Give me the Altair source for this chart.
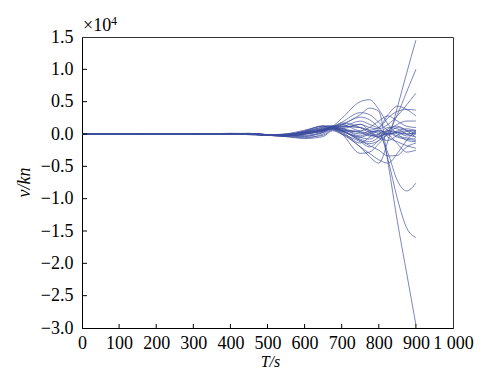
import altair as alt
import pandas as pd

# time grid (s)
T = [0, 150, 300, 400, 450, 500, 550, 600, 650, 675, 700, 750, 775, 800, 825, 850, 875, 900]

# curves, values in units of 1e4 kn
c01 = [0, 0, 0, 0.01, 0.01, -0.01, -0.03, 0.03, 0.08, 0.12, 0.24, 0.50, 0.53, 0.38, 0.15, 0.02, 0.00, 0.02]
c02 = [0, 0, 0, 0.00, 0.01, -0.02, -0.02, 0.04, 0.10, 0.11, 0.18, 0.33, 0.30, 0.18, 0.05, -0.03, -0.06, -0.08]
c03 = [0, 0, 0, 0.01, 0.00, -0.02, 0.00, 0.06, 0.12, 0.10, 0.14, 0.26, 0.22, 0.10, -0.05, -0.12, -0.18, -0.22]
c04 = [0, 0, 0, 0.00, -0.01, -0.02, 0.00, 0.03, 0.08, 0.09, 0.12, 0.10, 0.06, 0.10, 0.30, 0.43, 0.38, 0.28]
c05 = [0, 0, 0, 0.00, 0.00, -0.01, -0.03, 0.02, 0.06, 0.08, 0.00, -0.20, -0.35, -0.45, -0.10, 0.41, 0.94, 1.45]
c06 = [0, 0, 0, 0.00, 0.005, -0.01, -0.02, 0.05, 0.12, 0.11, 0.15, 0.30, 0.40, 0.35, -0.45, -1.35, -2.15, -2.95]
c07 = [0, 0, 0, 0.00, 0.00, -0.02, -0.01, 0.00, 0.05, 0.08, 0.05, -0.10, -0.15, -0.10, 0.02, 0.30, 0.65, 1.00]
c08 = [0, 0, 0, 0.00, 0.00, -0.01, -0.02, 0.02, 0.07, 0.10, 0.10, 0.15, 0.10, 0.08, 0.15, 0.28, 0.45, 0.63]
c09 = [0, 0, 0, 0.00, 0.00, -0.02, -0.03, 0.00, 0.06, 0.09, 0.05, -0.05, 0.00, 0.05, -0.40, -1.00, -1.45, -1.60]
c10 = [0, 0, 0, 0.00, 0.00, -0.01, -0.02, 0.01, 0.07, 0.12, 0.12, 0.10, 0.05, 0.00, -0.30, -0.72, -0.88, -0.76]
c11 = [0, 0, 0, 0.00, 0.00, -0.02, -0.04, -0.06, 0.00, 0.07, 0.00, -0.30, -0.28, -0.15, 0.00, 0.10, 0.06, 0.00]
c12 = [0, 0, 0, 0.00, 0.00, -0.02, -0.03, -0.04, 0.03, 0.08, 0.02, -0.20, -0.30, -0.40, -0.45, -0.30, -0.10, 0.05]
c13 = [0, 0, 0, 0.00, -0.01, -0.02, -0.02, 0.00, 0.06, 0.10, 0.05, -0.10, -0.18, -0.25, -0.34, -0.33, -0.20, -0.14]
c14 = [0, 0, 0, 0.00, 0.00, -0.01, 0.00, 0.04, 0.11, 0.13, 0.12, 0.20, 0.15, 0.10, 0.25, 0.35, 0.38, 0.37]
c15 = [0, 0, 0, 0.00, 0.00, -0.01, -0.01, 0.03, 0.09, 0.11, 0.15, 0.05, 0.10, 0.20, 0.28, 0.20, 0.12, 0.10]
c16 = [0, 0, 0, 0.00, 0.00, -0.02, -0.02, 0.02, 0.07, 0.10, 0.08, 0.15, 0.05, -0.05, 0.05, 0.15, 0.20, 0.20]
c17 = [0, 0, 0, 0.00, 0.00, -0.02, -0.01, -0.03, 0.02, 0.08, 0.06, -0.08, -0.12, -0.05, 0.08, 0.12, 0.05, -0.05]
c18 = [0, 0, 0, 0.00, 0.00, -0.01, -0.02, -0.05, -0.02, 0.06, 0.03, -0.14, -0.05, 0.05, 0.00, -0.15, -0.28, -0.25]
c19 = [0, 0, 0, 0.00, 0.00, -0.02, -0.03, 0.00, 0.05, 0.10, 0.08, 0.02, -0.03, 0.00, 0.05, 0.03, 0.00, 0.02]
c20 = [0, 0, 0, 0.00, 0.00, -0.01, -0.02, 0.01, 0.05, 0.09, 0.07, 0.00, 0.04, 0.03, -0.02, 0.05, 0.08, 0.05]
c21 = [0, 0, 0, 0.00, 0.00, -0.01, -0.03, -0.02, 0.03, 0.09, 0.05, 0.03, -0.02, -0.04, 0.02, -0.05, -0.08, -0.10]
c22 = [0, 0, 0, 0.00, 0.00, -0.02, -0.01, 0.02, 0.06, 0.11, 0.09, -0.03, 0.02, 0.06, 0.00, 0.02, -0.03, 0.00]
c23 = [0, 0, 0, 0.00, 0.00, -0.01, -0.02, 0.00, 0.05, 0.10, 0.06, 0.04, 0.00, -0.06, -0.10, -0.02, 0.04, 0.06]
c24 = [0, 0, 0, 0.00, 0.00, -0.01, -0.03, 0.01, 0.04, 0.09, 0.04, -0.05, -0.08, 0.00, 0.10, 0.08, 0.00, -0.05]
c25 = [0, 0, 0, 0.00, 0.00, -0.01, -0.01, 0.04, 0.13, 0.12, 0.17, 0.10, 0.02, -0.02, 0.00, 0.03, 0.05, 0.04]
c26 = [0, 0, 0, 0.00, 0.00, -0.02, -0.04, -0.07, -0.04, 0.05, 0.00, -0.12, -0.20, -0.10, 0.05, 0.00, -0.10, -0.12]

curves = [c01, c02, c03, c04, c05, c06, c07, c08, c09, c10, c11, c12, c13,
          c14, c15, c16, c17, c18, c19, c20, c21, c22, c23, c24, c25, c26]

x_ticks = [0, 100, 200, 300, 400, 500, 600, 700, 800, 900, 1000]
y_ticks = [-3.0, -2.5, -2.0, -1.5, -1.0, -0.5, 0.0, 0.5, 1.0, 1.5]
x_inner_ticks = [100, 200, 300, 400, 500, 600, 700, 800, 900]
y_inner_ticks = [-2.5, -2.0, -1.5, -1.0, -0.5, 0.0, 0.5, 1.0]

rows = []
for i, c in enumerate(curves):
    for t, v in zip(T, c):
        rows.append({"curve": i, "t": t, "v": v})
df = pd.DataFrame(rows)

W, H = 371, 291
FONT = "Liberation Serif"

xscale = alt.Scale(domain=[0, 1000], nice=False, zero=False)
yscale = alt.Scale(domain=[-3.0, 1.5], nice=False, zero=False)

xaxis = alt.Axis(
    values=x_ticks, title="T/s", grid=False, ticks=False,
    labelExpr="datum.value == 1000 ? '1 000' : datum.label",
    labelPadding=6, labelFlush=False,
    labelFont=FONT, labelFontSize=18, labelColor="black",
    titleFont=FONT, titleFontSize=16, titleColor="black",
    domainColor="black", domainWidth=1,
    titleX=188, titleY=25, titleAlign="center", titleBaseline="top",
    titleFontStyle="italic", titleFontWeight="normal")
yaxis = alt.Axis(
    values=y_ticks, format=".1f", title="v/kn", grid=False, ticks=False,
    labelPadding=9, labelFlush=False,
    labelFont=FONT, labelFontSize=18, labelColor="black",
    titleFont=FONT, titleFontSize=18, titleColor="black",
    domainColor="black", domainWidth=1,
    titleX=-58, titleY=145, titleAngle=-90, titleAlign="center",
    titleBaseline="middle", titleFontStyle="italic", titleFontWeight="normal")

lines = alt.Chart(df).mark_line(
    color="#3d4d9d", strokeWidth=0.8, opacity=0.85, interpolate="monotone"
).encode(
    x=alt.X("t:Q", scale=xscale, axis=xaxis),
    y=alt.Y("v:Q", scale=yscale, axis=yaxis),
    detail="curve:N",
)

xt = alt.Chart(pd.DataFrame({"t": x_inner_ticks})).mark_rule(color="black", strokeWidth=1).encode(
    x=alt.X("t:Q", scale=xscale, axis=xaxis),
    y=alt.value(H), y2=alt.value(H - 4),
)
yt = alt.Chart(pd.DataFrame({"v": y_inner_ticks})).mark_rule(color="black", strokeWidth=1).encode(
    y=alt.Y("v:Q", scale=yscale, axis=yaxis),
    x=alt.value(0), x2=alt.value(5),
)

mult = alt.Chart(pd.DataFrame({"s": ["×10"]})).mark_text(
    font=FONT, fontSize=18, align="left", baseline="middle", color="black"
).encode(x=alt.value(1), y=alt.value(-11), text="s:N")
expo = alt.Chart(pd.DataFrame({"s": ["4"]})).mark_text(
    font=FONT, fontSize=12, align="left", baseline="middle", color="black"
).encode(x=alt.value(29), y=alt.value(-16), text="s:N")

chart = alt.layer(lines, xt, yt, mult, expo).properties(
    width=W, height=H,
    background="white",
    autosize=alt.AutoSizeParams(type="none"),
    padding={"left": 82, "top": 37, "right": 41, "bottom": 40},
).configure_view(
    stroke="#333", strokeWidth=1
)

chart.save("out.html", embed_options={"renderer": "svg", "actions": False})
